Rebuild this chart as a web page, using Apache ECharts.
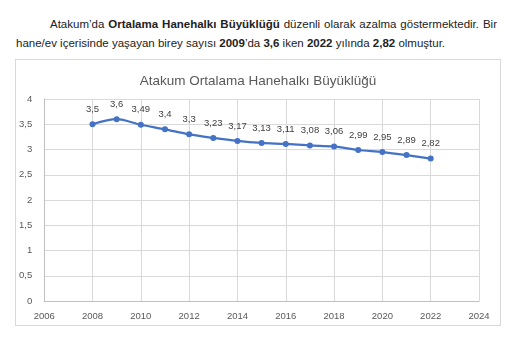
<!DOCTYPE html>
<html>
<head>
<meta charset="utf-8">
<script src="https://cdn.jsdelivr.net/npm/echarts@6/dist/echarts.min.js"></script>
<style>
body{margin:0;background:#fff;width:529px;height:353px;overflow:hidden;position:relative;font-family:"Liberation Sans",sans-serif;}
#para{position:absolute;left:16px;top:15px;width:481px;font-size:11.5px;color:#222;line-height:19px;}
#para .l1{text-indent:34px;text-align:justify;text-align-last:justify;}
#chartBox{position:absolute;left:15px;top:59px;width:484px;height:265px;border:1px solid #d9d9d9;}
#chart{width:484px;height:265px;}
</style>
</head>
<body>
<div id="para">
<div class="l1">Atakum’da <b>Ortalama Hanehalkı Büyüklüğü</b> düzenli olarak azalma göstermektedir. Bir</div>
<div>hane/ev içerisinde yaşayan birey sayısı <b>2009</b>’da <b>3,6</b> iken <b>2022</b> yılında <b>2,82</b> olmuştur.</div>
</div>
<div id="chartBox"><div id="chart"></div></div>
<script>
// veriler
var years = [2008,2009,2010,2011,2012,2013,2014,2015,2016,2017,2018,2019,2020,2021,2022];
var hhSize = [3.5,3.6,3.49,3.4,3.3,3.23,3.17,3.13,3.11,3.08,3.06,2.99,2.95,2.89,2.82];
var chartTitle = 'Atakum Ortalama Hanehalkı Büyüklüğü';

function tr(v){ return String(v).replace('.', ','); }

var seriesData = years.map(function(y,i){ return [y, hhSize[i]]; });

var myChart = echarts.init(document.getElementById('chart'));
var option = {
    animation:false,
    title:{
        text:chartTitle,
        left:'center',
        top:9,
        textStyle:{color:'#595959',fontSize:13.5,fontWeight:'normal',fontFamily:'Liberation Sans'}
    },
    grid:{left:28,right:21,top:39,bottom:24},
    xAxis:{
        type:'value',
        min:2006,max:2024,interval:2,
        axisLine:{lineStyle:{color:'#bfbfbf'}},
        axisTick:{show:false},
        axisLabel:{color:'#595959',fontSize:9.5,margin:10,fontFamily:'Liberation Sans',
            formatter:function(v){ return String(v); }},
        splitLine:{lineStyle:{color:'#d9d9d9'}}
    },
    yAxis:{
        type:'value',
        min:0,max:4,interval:0.5,
        axisLine:{show:true,lineStyle:{color:'#bfbfbf'}},
        axisTick:{show:false},
        axisLabel:{color:'#595959',fontSize:9.5,margin:12,formatter:tr,fontFamily:'Liberation Sans'},
        splitLine:{lineStyle:{color:'#d9d9d9'}}
    },
    series:[{
        type:'line',
        data:seriesData,
        smooth:0.3,
        symbol:'circle',
        symbolSize:6,
        lineStyle:{color:'#4472c4',width:2.25},
        itemStyle:{color:'#4472c4'},
        label:{
            show:true,position:'top',distance:7,
            color:'#404040',fontSize:9.5,fontFamily:'Liberation Sans',
            formatter:function(p){ return tr(p.value[1]); }
        }
    }]
};
myChart.setOption(option);
</script>
</body>
</html>
